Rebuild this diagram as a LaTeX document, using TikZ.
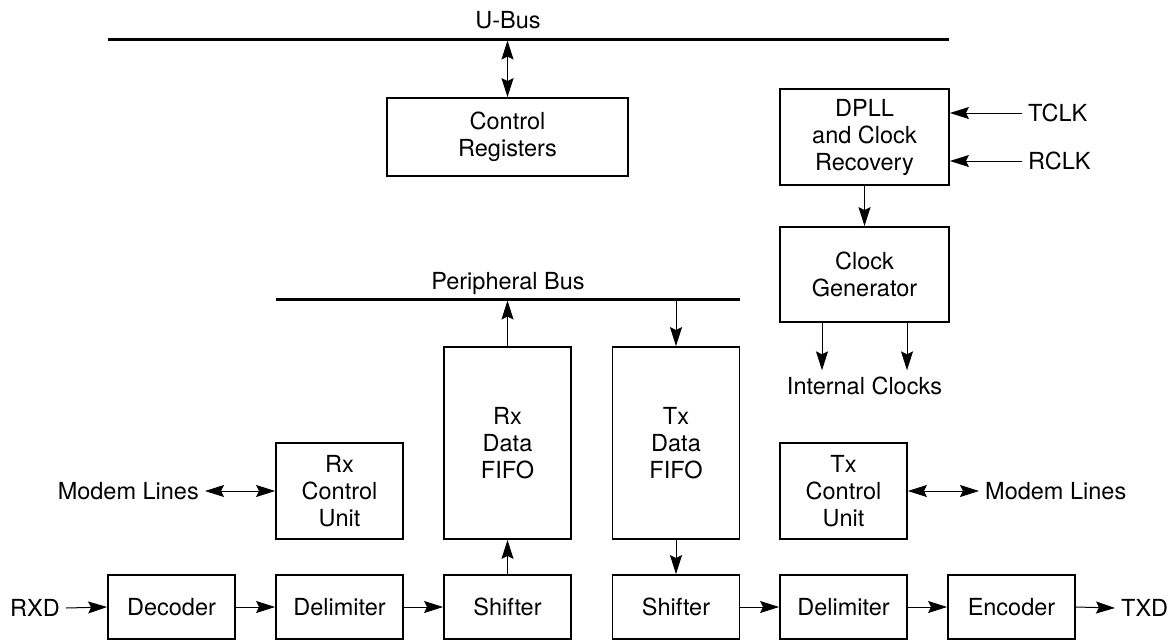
\documentclass[tikz,border=0pt]{standalone}
\usepackage{fontspec}
\setmainfont{TeX Gyre Heros}
\usetikzlibrary{arrows.meta}
\begin{document}
\begin{tikzpicture}[x=1pt,y=-1pt,
  every node/.style={font=\fontsize{23.5}{27}\selectfont},
  blk/.style={draw,line width=1.8pt,inner sep=0pt,align=center,minimum width=127pt},
  lbl/.style={inner sep=6pt},
  bus/.style={line width=3pt},
  arr/.style={line width=1pt,-{Stealth[length=19pt,width=12pt,inset=3pt]}},
  darr/.style={line width=1pt,{Stealth[length=19pt,width=12pt,inset=3pt]}-{Stealth[length=19pt,width=12pt,inset=3pt]}}]
\useasboundingbox (0,0) rectangle (1173,641);
% buses
\coordinate (ubusL) at (108,39);
\coordinate (ubusR) at (949,39);
\coordinate (pbusL) at (276,299);
\coordinate (pbusR) at (740,299);
\draw[bus] (ubusL) -- (ubusR);
\draw[bus] (pbusL) -- (pbusR);
\node[anchor=base,inner sep=0pt] (ubuslbl) at (508,28.5) {U-Bus};
\node[anchor=base,inner sep=0pt] (pbuslbl) at (508,289) {Peripheral Bus};
% blocks
\node[blk,minimum width=241pt,minimum height=78pt] (ctrl) at (507.5,137) {Control\\Registers};
\node[blk,minimum width=169pt,minimum height=96pt] (dpll) at (864.5,137) {DPLL\\and Clock\\Recovery};
\node[blk,minimum width=169pt,minimum height=95pt] (clkgen) at (864.5,274.5) {Clock\\Generator};
\node[blk,minimum height=192pt] (rxfifo) at (507.5,443) {Rx\\Data\\FIFO};
\node[blk,minimum height=192pt] (txfifo) at (676,443) {Tx\\Data\\FIFO};
\node[blk,minimum height=96pt] (rxctl) at (339.5,491) {Rx\\Control\\Unit};
\node[blk,minimum height=96pt] (txctl) at (843.5,491) {Tx\\Control\\Unit};
\node[blk,minimum height=64pt] (dec) at (171.5,607) {Decoder};
\node[blk,minimum height=64pt] (rdel) at (339.5,607) {Delimiter};
\node[blk,minimum height=64pt] (rsh) at (507.5,607) {Shifter};
\node[blk,minimum height=64pt] (tsh) at (676,607) {Shifter};
\node[blk,minimum height=64pt] (tdel) at (843.5,607) {Delimiter};
\node[blk,minimum height=64pt] (enc) at (1011.5,607) {Encoder};
% side labels
\node[lbl,anchor=east] (rxd) at (66,608) {RXD};
\node[lbl,anchor=west] (txd) at (1115,608) {TXD};
\node[lbl,anchor=east] (mleft) at (205,491) {Modem Lines};
\node[lbl,anchor=west] (mright) at (979,491) {Modem Lines};
\node[lbl,anchor=west] (tclk) at (1022,113) {TCLK};
\node[lbl,anchor=west] (rclk) at (1022,161) {RCLK};
\node[lbl] (ic) at (864.5,385.5) {Internal Clocks};
% connectors
\draw[darr] (ctrl.north) -- ([yshift=-1.5pt]ctrl.north |- ubusL);
\draw[arr] (rxfifo.north) -- ([yshift=-1.5pt]rxfifo.north |- pbusL);
\draw[arr] ([yshift=-1.5pt]txfifo.north |- pbusL) -- (txfifo.north);
\draw[arr] (rsh.north) -- (rxfifo.south);
\draw[arr] (txfifo.south) -- (tsh.north);
\draw[arr] (tclk.west) -- (tclk.west -| dpll.east);
\draw[arr] (rclk.west) -- (rclk.west -| dpll.east);
\draw[arr] (dpll.south) -- (clkgen.north);
\draw[arr] ([xshift=-42.5pt]clkgen.south) -- ([xshift=-42.5pt]clkgen.south |- ic.north);
\draw[arr] ([xshift=42.5pt]clkgen.south) -- ([xshift=42.5pt]clkgen.south |- ic.north);
\draw[darr] (mleft.east) -- (rxctl.west);
\draw[darr] (txctl.east) -- (mright.west);
\draw[arr] (rxd.east) -- (dec.west);
\draw[arr] (dec.east) -- (rdel.west);
\draw[arr] (rdel.east) -- (rsh.west);
\draw[arr] (tsh.east) -- (tdel.west);
\draw[arr] (tdel.east) -- (enc.west);
\draw[arr] (enc.east) -- (txd.west);
\end{tikzpicture}
\end{document}
